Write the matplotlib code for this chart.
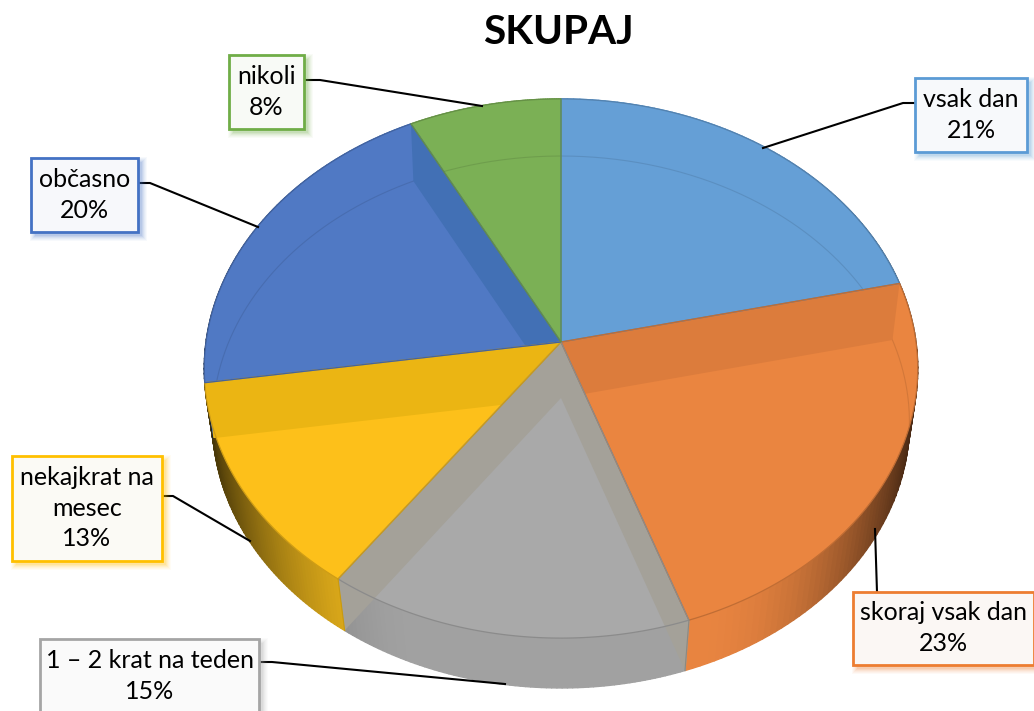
import numpy as np
import matplotlib
matplotlib.use("Agg")
import matplotlib.pyplot as plt
from matplotlib.collections import PolyCollection
from matplotlib.colors import to_rgb
from matplotlib.patches import Polygon, Rectangle

categories = ["vsak dan", "skoraj vsak dan", "1 – 2 krat na teden",
              "nekajkrat na\nmesec", "občasno", "nikoli"]
shares = [21.4, 23.3, 15.1, 12.8, 19.8, 7.6]
percent_labels = ["21%", "23%", "15%", "13%", "20%", "8%"]
face_colors = ["#659fd6", "#ea8540", "#a9a9a9", "#fdc01a", "#5079c4", "#7bb055"]
band_colors = ["#5d95cb", "#dc7c3c", "#a4a199", "#ebb513", "#4270b5", "#72a54f"]
wall_colors = ["#5d95cb", "#e88440", "#a1a1a1", "#efb81c", "#4270b5", "#72a54f"]
box_colors = ["#5b9bd5", "#ed7d31", "#a5a5a5", "#ffc000", "#4472c4", "#70ad47"]
box_fills = ["#f7f9fb", "#fbf7f4", "#fafafa", "#fbfaf5", "#f7f8fb", "#f8faf6"]

# layout in pixels: left, top, right, bottom of each label box
boxes = [(915, 78, 1027, 152), (853, 592, 1034, 665), (40, 639, 259, 725),
         (12, 456, 162, 561), (31, 158, 138, 232), (229, 55, 304, 129)]
text_y = [115, 628, 676, 508, 195, 92]
leaders = [[(915, 103), (903, 103), (763, 148)],
           [(877, 592), (875, 529)],
           [(259, 662), (272, 662), (505, 684)],
           [(162, 496), (173, 496), (250, 541)],
           [(138, 183), (150, 183), (258, 227)],
           [(304, 80), (320, 80), (482, 106)]]

CX = 561
TOP = dict(cy=342, rx=355, k=267, p=0.0983)
FLOOR = dict(cy=398, rx=347, k=263.8, p=0.0902)


def project(theta, s):
    # clockwise from 12 o'clock, near side of the disc is drawn bigger
    u = np.sin(theta)
    v = -np.cos(theta)
    den = 1 - s["p"] * v
    return np.column_stack([CX + s["rx"] * u / den, s["cy"] + s["k"] * v / den])


def darker(col, f):
    return tuple(c * f for c in to_rgb(col))


plt.rcParams["font.family"] = ["Lato", "DejaVu Sans"]
fig = plt.figure(figsize=(10.34, 7.11), dpi=100)
ax = fig.add_axes([0, 0, 1, 1])
ax.set_xlim(0, 1034)
ax.set_ylim(711, 0)
ax.axis("off")

edges = np.concatenate([[0], np.cumsum(shares)]) / np.sum(shares) * 2 * np.pi
center_top = np.array([[CX, TOP["cy"]]])
center_floor = np.array([[CX, FLOOR["cy"]]])
all_theta = np.linspace(0, 2 * np.pi, 721)

sectors = []
walls = []
for i in range(len(shares)):
    t = np.linspace(edges[i], edges[i + 1], 70)
    rim = project(t, TOP)
    low = project(t, FLOOR)
    sectors.append(np.vstack([center_top, rim]))
    walls.append(np.vstack([rim, low[::-1]]))

    # outer wall, gets darker toward the sides
    quads = []
    cols = []
    for j in range(len(t) - 1):
        quads.append([rim[j], rim[j + 1], low[j + 1], low[j]])
        a = abs(low[j, 0] - CX) / 350
        shade = 1 - 0.72 * max(0, (a - 0.4) / 0.6) ** 2
        cols.append(darker(wall_colors[i], shade))
    ax.add_collection(PolyCollection(quads, facecolors=cols, edgecolors=cols,
                                     linewidths=1.0, zorder=1))

# the radial walls show through the slices: once on the outer wall, once on top
for i in range(len(shares)):
    top_clip = Polygon(sectors[i], closed=True, transform=ax.transData)
    wall_clip = Polygon(walls[i], closed=True, transform=ax.transData)
    ax.add_patch(Polygon(sectors[i], closed=True, facecolor=face_colors[i],
                         edgecolor="none", zorder=2))
    for k in (i, i + 1):
        tt = np.array([edges[k]])
        wall = np.vstack([center_top, project(tt, TOP), project(tt, FLOOR), center_floor])
        under = Polygon(wall, closed=True, facecolor=band_colors[i],
                        edgecolor="none", zorder=1.5)
        ax.add_patch(under)
        under.set_clip_path(wall_clip)
        over = Polygon(wall, closed=True, facecolor=band_colors[i],
                       edgecolor="none", zorder=3.5)
        ax.add_patch(over)
        over.set_clip_path(top_clip)

    # floor circle seen through the top
    floor_xy = project(all_theta, FLOOR)
    line, = ax.plot(floor_xy[:, 0], floor_xy[:, 1], color=darker(face_colors[i], 0.75),
                    lw=0.8, alpha=0.4, zorder=3)
    line.set_clip_path(top_clip)

for i in range(len(shares)):
    ax.add_patch(Polygon(sectors[i], closed=True, facecolor="none",
                         edgecolor=darker(face_colors[i], 0.82), lw=0.9, zorder=5))
    tt = np.array([edges[i]])
    rad = np.vstack([project(tt, TOP), project(tt, FLOOR)])
    if rad[1, 1] > 500:
        ax.plot(rad[:, 0], rad[:, 1], color=darker(band_colors[i], 0.85), lw=0.8, zorder=5)

for i, cat in enumerate(categories):
    pts = np.array(leaders[i])
    ax.plot(pts[:, 0], pts[:, 1], color="black", lw=1.5, zorder=6,
            solid_joinstyle="round")
    x0, y0, x1, y1 = boxes[i]
    # soft shadow
    for grow, alpha in zip((5, 4, 3, 2, 1, 0), (0.04, 0.05, 0.06, 0.08, 0.1, 0.12)):
        ax.add_patch(Rectangle((x0 + 4 - grow, y0 + 4 - grow), x1 - x0 + 2 * grow,
                               y1 - y0 + 2 * grow, facecolor=box_colors[i],
                               edgecolor="none", alpha=alpha, zorder=7))
    ax.add_patch(Rectangle((x0, y0), x1 - x0, y1 - y0, facecolor=box_fills[i],
                           edgecolor=box_colors[i], lw=2, zorder=8))
    ax.text((x0 + x1) / 2, text_y[i], cat + "\n" + percent_labels[i], ha="center",
            va="center", ma="center", fontsize=18, color="black",
            linespacing=1.42, zorder=9)

ax.text(558.5, 33, "SKUPAJ", ha="center", va="center", fontsize=29.2,
        fontweight="bold", color="black", zorder=9)

fig.savefig("out.png", dpi=100)
